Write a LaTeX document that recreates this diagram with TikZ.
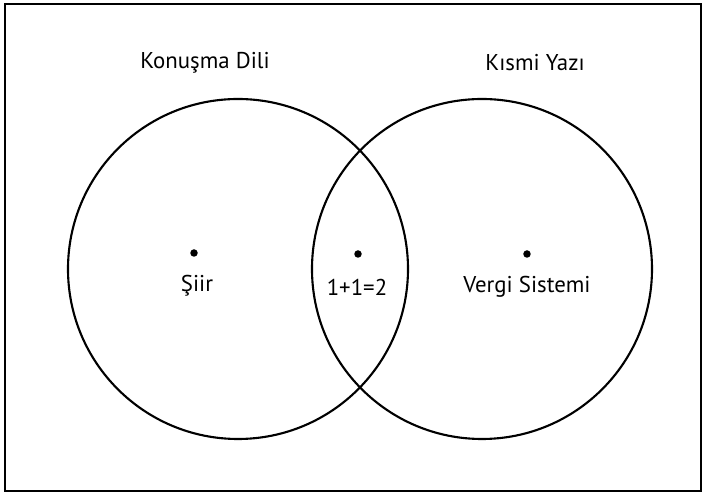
\documentclass[tikz,border=0pt]{standalone}
\usepackage{fontspec}
\setmainfont{PT Sans}
\usepackage{tikz}
\usetikzlibrary{positioning}

\begin{document}
\begin{tikzpicture}[every node/.style={font=\fontsize{13}{15}\selectfont},
    setcircle/.style={draw, circle, line width=1.2pt, minimum size=6.8cm, inner sep=0pt},
    dot/.style={circle, fill=black, inner sep=0pt, minimum size=0.15cm}]
    \useasboundingbox (0,0) rectangle (14.1,9.9);
    \draw[line width=1.4pt] (0.1,0.08) rectangle (14.02,9.82);
    \node[setcircle] (konusma) at (4.76,4.52) {};
    \node[setcircle] (yazi) at (9.64,4.52) {};
    \node (konusmalabel) at (4.1,8.64) {Konuşma Dili};
    \node (yazilabel) at (10.7,8.64) {Kısmi Yazı};
    \node[dot] (siirdot) at (3.88,4.84) {};
    \node[dot] (kesisimdot) at (7.16,4.82) {};
    \node[dot] (vergidot) at (10.54,4.82) {};
    \node (siir) at (3.94,4.18) {Şiir};
    \node (kesisim) at (7.14,4.16) {1+1=2};
    \node (vergi) at (10.54,4.16) {Vergi Sistemi};
\end{tikzpicture}
\end{document}
